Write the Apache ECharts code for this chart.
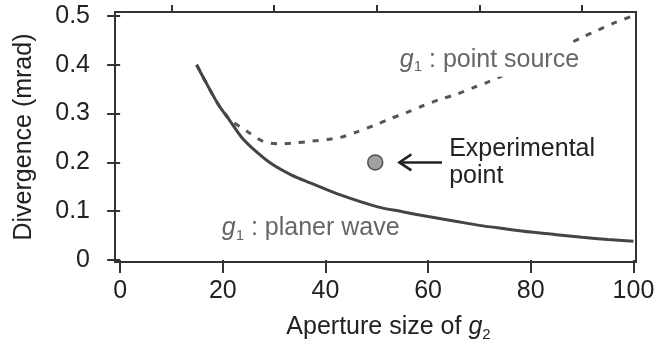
<!DOCTYPE html>
<html><head><meta charset="utf-8">
<script src="https://cdn.jsdelivr.net/npm/echarts@6/dist/echarts.min.js"></script>
<style>html,body{margin:0;padding:0;background:#fff}#c{width:662px;height:347px}</style>
</head><body><div id="c"></div>
<script>
// ---- data ----
const planeX = [14.9,16.6,19.1,21.4,23.7,26.3,29.5,33.4,37.3,42.2,50,55,60,65,70,75,80,85,90,95,100];
const planeY = [0.400,0.366,0.319,0.285,0.251,0.224,0.197,0.174,0.157,0.136,0.1095,0.099,0.089,0.080,0.071,0.064,0.0574,0.052,0.0466,0.042,0.0385];
const pointX = [14.9,16.6,19.1,21.4,24.7,27.9,31.2,34.1,37.0,42.8,46,49.3,52.5,55.8,59,62.3,65.4,68.8,71.3,74,80,85,90.2,93.1,96.1,99.6];
const pointY = [0.400,0.366,0.319,0.288,0.264,0.243,0.238,0.240,0.243,0.251,0.262,0.275,0.289,0.302,0.316,0.329,0.339,0.353,0.363,0.375,0.405,0.430,0.457,0.471,0.485,0.499];
const expX = [49.7];
const expY = [0.2];
const xMajorTicks = [0,20,40,60,80,100];
const xMinorTicks = [10,30,50,70,90];
const yTicks = [0,0.1,0.2,0.3,0.4,0.5];
// annotation anchors (data coords)
const labelPointSourceAt = [53.9, 0.41];
const labelPlaneAt = [19.8, 0.065];
const expTextAt = [64.1, 0.2];
const arrowTip = [54.2, 0.2];
const arrowTail = [62.7, 0.2];

const FONT = '"Liberation Sans", Arial, Helvetica, sans-serif';
const zip = (a,b) => a.map((v,i)=>[v,b[i]]);

const chart = echarts.init(document.getElementById('c'));
const tickStyle = {color:'#333', width:2};
chart.setOption({
  animation:false,
  grid:{left:115,right:26,top:12,bottom:83,show:true,borderColor:'#333',borderWidth:2},
  xAxis:[{
    type:'value',min:-1,max:100.5,
    axisLine:{show:false},splitLine:{show:false},
    axisTick:{show:true,customValues:xMajorTicks,length:13,lineStyle:tickStyle},
    axisLabel:{customValues:xMajorTicks,margin:17,fontSize:25,color:'#222',fontFamily:FONT},
    name:'Aperture size of {i|g}{s|2}',nameLocation:'middle',nameGap:50,
    nameTextStyle:{fontSize:25,color:'#222',fontFamily:FONT,padding:[0,0,0,26],
      rich:{i:{fontSize:25,fontStyle:'italic',color:'#222',fontFamily:FONT,lineHeight:30},
            s:{fontSize:15,color:'#222',fontFamily:FONT,verticalAlign:'bottom',lineHeight:15}}}
  },{
    type:'value',min:-1,max:100.5,
    axisLine:{show:false},splitLine:{show:false},
    axisTick:{show:true,customValues:xMinorTicks,length:7,lineStyle:tickStyle},
    axisLabel:{show:false}
  }],
  yAxis:{
    type:'value',min:-0.004,max:0.508,
    axisLine:{show:false},splitLine:{show:false},
    axisTick:{show:true,customValues:yTicks,length:13,lineStyle:tickStyle},
    axisLabel:{customValues:yTicks,margin:25,fontSize:25,color:'#222',fontFamily:FONT,formatter:v=>String(v)},
    name:'Divergence (mrad)',nameLocation:'middle',nameGap:78,
    nameTextStyle:{fontSize:25,color:'#222',fontFamily:FONT}
  },
  series:[
    {type:'line',data:zip(pointX,pointY),showSymbol:false,smooth:0.3,
     lineStyle:{color:'#555',width:3,type:[6,8]},z:2},
    {type:'line',data:zip(planeX,planeY),showSymbol:false,smooth:0.3,
     lineStyle:{color:'#444',width:3},z:3},
    {type:'scatter',data:zip(expX,expY),symbolSize:15,
     itemStyle:{color:'#888',borderColor:'#333',borderWidth:1.5},z:4}
  ]
});

const px = p => chart.convertToPixel({xAxisIndex:0,yAxisIndex:0}, p);
const subRich = (col) => ({
  i:{fontSize:25,fontStyle:'italic',fill:col,fontFamily:FONT,lineHeight:30,verticalAlign:'middle'},
  s:{fontSize:15,fill:col,fontFamily:FONT,lineHeight:15,verticalAlign:'bottom'},
  n:{fontSize:25,fill:col,fontFamily:FONT,lineHeight:30,verticalAlign:'middle'}
});
const pS = px(labelPointSourceAt), pP = px(labelPlaneAt), pE = px(expTextAt);
const tip = px(arrowTip), tail = px(arrowTail);
chart.setOption({graphic:[
  {type:'text',x:pS[0],y:pS[1],z:10,style:{text:'{i|g}{s|1}{n| : point source}',rich:subRich('#666'),
    verticalAlign:'middle',align:'left',backgroundColor:'#fff',padding:[2,3,2,3]}},
  {type:'text',x:pP[0],y:pP[1],z:10,style:{text:'{i|g}{s|1}{n| : planer wave}',rich:subRich('#666'),
    verticalAlign:'middle',align:'left'}},
  {type:'text',x:pE[0],y:pE[1],z:10,style:{text:'Experimental\npoint',fontSize:25,fontFamily:FONT,fill:'#222',
    lineHeight:27,verticalAlign:'middle',align:'left'}},
  {type:'line',z:10,shape:{x1:tip[0]+1,y1:tip[1],x2:tail[0],y2:tail[1]},style:{stroke:'#222',lineWidth:2.5}},
  {type:'polyline',z:10,shape:{points:[[tip[0]+13,tip[1]-8],[tip[0]+1,tip[1]],[tip[0]+13,tip[1]+8]]},
    style:{stroke:'#222',lineWidth:2.5,fill:null}}
]});
</script></body></html>
